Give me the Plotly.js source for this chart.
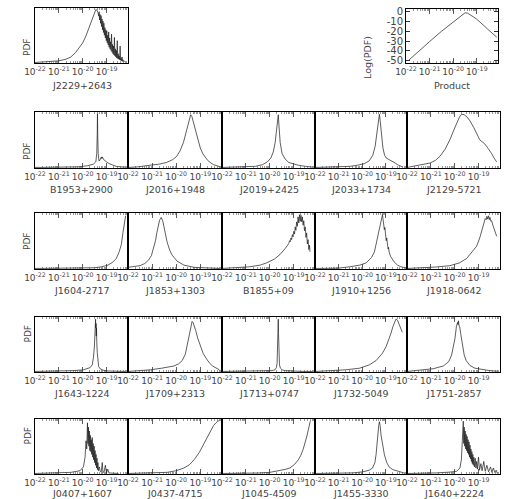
<!DOCTYPE html>
<html><head><meta charset="utf-8">
<script src="https://cdn.plot.ly/plotly-3.0.1.min.js"></script>
<style>html,body{margin:0;padding:0;background:#fff}#plot{width:505px;height:499px}</style>
</head><body><div id="plot"></div>
<script>
// ---- DATA: [log10(x), normalised PDF] ----
const tickValues = [-22, -21, -20, -19];
const tickLabels = ["10<sup>-22</sup>", "10<sup>-21</sup>", "10<sup>-20</sup>", "10<sup>-19</sup>"];
const productTickValues = [0, -10, -20, -30, -40, -50];
const productTickLabels = ["0", "-10", "-20", "-30", "-40", "-50"];

const J2229 = [[-22.0,0],[-21.55,0.01],[-21.0,0.03],[-20.7,0.06],[-20.5,0.1],[-20.3,0.18],[-20.15,0.26],[-20.0,0.36],[-19.86,0.49],[-19.72,0.66],[-19.6,0.82],[-19.5,0.94],[-19.45,0.97],[-19.4,0.96],[-19.36,0.92],[-19.33,0.85],
 [-19.31,0.93],[-19.29,0.78],[-19.27,0.88],[-19.25,0.72],[-19.23,0.86],[-19.21,0.66],[-19.19,0.8],[-19.17,0.6],[-19.15,0.76],[-19.13,0.55],[-19.11,0.72],[-19.09,0.5],[-19.07,0.64],[-19.05,0.45],[-19.03,0.6],[-19.01,0.4],[-18.99,0.58],[-18.97,0.36],[-18.95,0.5],[-18.93,0.32],[-18.91,0.56],[-18.89,0.28],[-18.87,0.45],[-18.85,0.25],[-18.83,0.38],[-18.81,0.22],[-18.79,0.52],[-18.77,0.19],[-18.75,0.33],[-18.73,0.16],[-18.71,0.3],[-18.69,0.14],[-18.67,0.46],[-18.65,0.12],[-18.63,0.25],[-18.61,0.1],[-18.59,0.22],[-18.57,0.08],[-18.55,0.4],[-18.53,0.07],[-18.51,0.16],[-18.49,0.06],[-18.47,0.12],[-18.45,0.05],[-18.43,0.3],[-18.41,0.04],[-18.39,0.08],[-18.37,0.03],[-18.35,0.1],[-18.33,0.02],[-18.31,0.05],[-18.29,0.02],[-18.27,0.03],[-18.25,0.01]];

const Product = [[-21.9,-50],[-21.5,-41],[-21.0,-30.5],[-20.5,-20],[-20.0,-10],[-19.75,-5],[-19.6,-2],[-19.5,-1],[-19.4,-1.2],[-19.3,-2.5],[-19.15,-5],[-19.0,-7.5],[-18.85,-10.5],[-18.7,-14],[-18.55,-17.5],[-18.4,-21],[-18.25,-24],[-18.15,-26]];

const B1953 = [[-22,0],[-21,0.003],[-20.2,0.01],[-19.8,0.03],[-19.55,0.06],[-19.45,0.1],[-19.41,0.25],[-19.39,0.6],[-19.38,0.97],[-19.37,0.6],[-19.35,0.25],[-19.32,0.12],[-19.28,0.13],[-19.25,0.17],[-19.22,0.19],[-19.2,0.16],[-19.17,0.19],[-19.14,0.15],[-19.1,0.14],[-19.05,0.12],[-19.0,0.1],[-18.9,0.07],[-18.8,0.05],[-18.6,0.02],[-18.4,0.01],[-18.2,0.005]];
const J2016 = [[-22,0],[-21.6,0.01],[-21.09,0.04],[-20.7,0.06],[-20.4,0.09],[-20.15,0.14],[-19.98,0.2],[-19.84,0.3],[-19.7,0.45],[-19.6,0.62],[-19.52,0.78],[-19.45,0.9],[-19.4,0.95],[-19.35,0.92],[-19.28,0.8],[-19.2,0.66],[-19.14,0.55],[-19.07,0.44],[-19.0,0.35],[-18.9,0.25],[-18.8,0.18],[-18.7,0.13],[-18.59,0.09],[-18.45,0.05],[-18.31,0.03],[-18.17,0.01]];
const J2019 = [[-22,0],[-21,0.005],[-20.6,0.02],[-20.3,0.05],[-20.1,0.1],[-19.95,0.17],[-19.85,0.28],[-19.77,0.45],[-19.7,0.7],[-19.66,0.93],[-19.64,0.95],[-19.61,0.75],[-19.56,0.45],[-19.48,0.25],[-19.35,0.15],[-19.2,0.09],[-19.0,0.06],[-18.8,0.04],[-18.5,0.02],[-18.3,0.01],[-18.2,0.005]];
const J2033 = [[-22,0],[-21,0.01],[-20.5,0.02],[-20.2,0.04],[-19.9,0.07],[-19.7,0.12],[-19.55,0.22],[-19.45,0.38],[-19.37,0.6],[-19.3,0.85],[-19.27,0.96],[-19.24,0.85],[-19.18,0.55],[-19.12,0.35],[-19.05,0.22],[-18.98,0.17],[-18.9,0.15],[-18.8,0.13],[-18.7,0.11],[-18.6,0.08],[-18.5,0.05],[-18.4,0.03],[-18.3,0.01]];
const J2129 = [[-22,0],[-21.87,0.01],[-21.5,0.03],[-21.03,0.08],[-20.8,0.13],[-20.62,0.2],[-20.4,0.33],[-20.2,0.5],[-20.05,0.66],[-19.92,0.8],[-19.8,0.91],[-19.71,0.96],[-19.6,0.95],[-19.48,0.91],[-19.36,0.84],[-19.2,0.72],[-19.08,0.6],[-18.95,0.5],[-18.87,0.47],[-18.75,0.43],[-18.66,0.38],[-18.55,0.32],[-18.45,0.25],[-18.35,0.17],[-18.24,0.1]];

const J1604 = [[-22,0],[-21,0.002],[-20,0.005],[-19.5,0.012],[-19.2,0.03],[-18.94,0.06],[-18.75,0.11],[-18.59,0.18],[-18.47,0.3],[-18.38,0.43],[-18.31,0.65],[-18.25,0.82],[-18.2,0.95]];
const J1853 = [[-22,0.02],[-21.79,0.03],[-21.5,0.05],[-21.3,0.09],[-21.15,0.15],[-21.03,0.23],[-20.94,0.35],[-20.86,0.5],[-20.8,0.65],[-20.74,0.78],[-20.69,0.87],[-20.62,0.92],[-20.56,0.86],[-20.52,0.78],[-20.45,0.62],[-20.38,0.48],[-20.27,0.33],[-20.17,0.24],[-19.96,0.13],[-19.68,0.06],[-19.26,0.02],[-18.7,0.005],[-18.2,0]];
const B1855 = [[-22,0],[-21.5,0.01],[-20.83,0.03],[-20.4,0.06],[-20.13,0.1],[-19.8,0.17],[-19.57,0.25],[-19.35,0.36],[-19.2,0.45],[-19.17,0.5],[-19.14,0.48],[-19.11,0.55],[-19.08,0.52],[-19.05,0.61],[-19.02,0.57],[-18.99,0.67],[-18.96,0.62],[-18.93,0.75],[-18.9,0.69],[-18.87,0.84],[-18.84,0.76],[-18.81,0.93],[-18.78,0.82],[-18.75,0.97],[-18.72,0.85],[-18.69,0.96],[-18.66,0.84],[-18.63,0.93],[-18.6,0.78],[-18.57,0.86],[-18.54,0.68],[-18.51,0.75],[-18.48,0.56],[-18.45,0.64],[-18.42,0.44],[-18.39,0.52],[-18.36,0.34],[-18.33,0.42],[-18.31,0.3]];
const J1910 = [[-22,0],[-21,0.005],[-20.53,0.03],[-20.1,0.06],[-19.83,0.1],[-19.6,0.2],[-19.48,0.3],[-19.35,0.55],[-19.25,0.78],[-19.2,0.88],[-19.16,0.95],[-19.14,0.97],[-19.12,0.9],[-19.1,0.82],[-19.08,0.86],[-19.06,0.7],[-19.04,0.74],[-19.02,0.6],[-19.0,0.64],[-18.98,0.5],[-18.96,0.55],[-18.94,0.42],[-18.92,0.46],[-18.9,0.35],[-18.88,0.38],[-18.86,0.3],[-18.8,0.22],[-18.72,0.16],[-18.65,0.12],[-18.5,0.06],[-18.36,0.03],[-18.15,0.01]];
const J1918 = [[-22,0],[-21.32,0.01],[-20.8,0.025],[-20.2,0.05],[-19.8,0.1],[-19.5,0.18],[-19.25,0.3],[-19.08,0.4],[-18.95,0.55],[-18.85,0.7],[-18.78,0.82],[-18.72,0.9],[-18.68,0.88],[-18.65,0.94],[-18.62,0.89],[-18.58,0.95],[-18.55,0.88],[-18.52,0.92],[-18.48,0.85],[-18.45,0.86],[-18.4,0.78],[-18.35,0.72],[-18.3,0.65],[-18.24,0.58]];

const J1643 = [[-22,0],[-21,0.005],[-20.4,0.015],[-19.97,0.03],[-19.8,0.05],[-19.69,0.07],[-19.6,0.12],[-19.55,0.25],[-19.51,0.45],[-19.49,0.7],[-19.47,0.85],[-19.46,0.96],[-19.45,0.8],[-19.44,0.88],[-19.43,0.65],[-19.42,0.8],[-19.41,0.55],[-19.39,0.35],[-19.37,0.18],[-19.33,0.09],[-19.27,0.05],[-19.15,0.025],[-18.99,0.01],[-18.6,0.003],[-18.2,0]];
const J1709 = [[-22,0],[-21.6,0.01],[-21.08,0.03],[-20.6,0.06],[-20.1,0.1],[-19.9,0.14],[-19.75,0.2],[-19.62,0.32],[-19.54,0.5],[-19.48,0.65],[-19.43,0.77],[-19.38,0.87],[-19.34,0.92],[-19.3,0.9],[-19.24,0.83],[-19.19,0.75],[-19.1,0.6],[-18.98,0.45],[-18.88,0.33],[-18.77,0.25],[-18.63,0.16],[-18.49,0.1],[-18.35,0.06],[-18.21,0.03]];
const J1713 = [[-22,0],[-21,0.002],[-20.2,0.006],[-19.9,0.015],[-19.78,0.03],[-19.72,0.07],[-19.69,0.15],[-19.665,0.4],[-19.65,0.75],[-19.64,0.96],[-19.63,0.7],[-19.615,0.3],[-19.59,0.12],[-19.55,0.06],[-19.48,0.03],[-19.35,0.015],[-19.1,0.006],[-18.7,0.002],[-18.2,0]];
const J1732 = [[-22,0],[-21.6,0.005],[-21.23,0.012],[-20.7,0.03],[-20.11,0.06],[-19.7,0.12],[-19.41,0.2],[-19.15,0.33],[-18.99,0.45],[-18.88,0.57],[-18.78,0.7],[-18.7,0.82],[-18.63,0.92],[-18.57,0.96],[-18.5,0.94],[-18.44,0.88],[-18.37,0.8],[-18.3,0.72]];
const J1751 = [[-22,0],[-21.32,0.03],[-20.9,0.05],[-20.48,0.1],[-20.25,0.18],[-20.13,0.3],[-20.05,0.45],[-19.99,0.6],[-19.93,0.82],[-19.88,0.9],[-19.86,0.86],[-19.84,0.93],[-19.82,0.85],[-19.79,0.82],[-19.75,0.7],[-19.71,0.58],[-19.66,0.42],[-19.6,0.3],[-19.52,0.2],[-19.36,0.11],[-19.15,0.06],[-18.94,0.04],[-18.6,0.02],[-18.38,0.01],[-18.2,0.005]];

const J0407 = [[-22,0],[-21.5,0.003],[-20.95,0.01],[-20.5,0.02],[-20.11,0.05],[-19.97,0.12],[-19.9,0.3],[-19.86,0.6],[-19.83,0.45],[-19.8,0.93],[-19.78,0.55],[-19.76,0.85],[-19.74,0.5],[-19.72,0.78],[-19.7,0.42],[-19.68,0.7],[-19.66,0.4],[-19.64,0.62],[-19.62,0.35],[-19.6,0.66],[-19.58,0.3],[-19.56,0.55],[-19.54,0.25],[-19.52,0.5],[-19.5,0.2],[-19.48,0.42],[-19.46,0.15],[-19.44,0.35],[-19.42,0.1],[-19.4,0.28],[-19.38,0.07],[-19.36,0.2],[-19.34,0.05],[-19.3,0.12],[-19.27,0.04],[-19.22,0.03],[-19.18,0.2],[-19.15,0.02],[-19.1,0.03],[-19.05,0.15],[-19.0,0.01],[-18.95,0.08],[-18.9,0.01],[-18.7,0.005],[-18.5,0]];
const J0437 = [[-22,0],[-21.5,0.002],[-21,0.006],[-20.38,0.02],[-20.0,0.05],[-19.68,0.1],[-19.45,0.16],[-19.26,0.25],[-19.05,0.38],[-18.84,0.55],[-18.7,0.68],[-18.56,0.8],[-18.45,0.88],[-18.35,0.93],[-18.28,0.96],[-18.21,0.97]];
const J1045 = [[-22,0],[-21,0.002],[-20.5,0.008],[-19.99,0.02],[-19.6,0.05],[-19.35,0.075],[-19.15,0.1],[-18.95,0.17],[-18.8,0.25],[-18.7,0.33],[-18.6,0.44],[-18.52,0.55],[-18.45,0.67],[-18.38,0.8],[-18.33,0.9],[-18.3,0.96]];
const J1455 = [[-22,0],[-21,0.003],[-20.4,0.01],[-19.97,0.03],[-19.7,0.06],[-19.56,0.1],[-19.46,0.2],[-19.41,0.35],[-19.35,0.7],[-19.3,0.88],[-19.27,0.95],[-19.24,0.88],[-19.2,0.7],[-19.13,0.5],[-19.06,0.35],[-18.96,0.2],[-18.86,0.12],[-18.7,0.07],[-18.51,0.04],[-18.23,0.01]];
const J1640 = [[-22,0],[-21.5,0.003],[-20.75,0.01],[-20.2,0.025],[-19.92,0.04],[-19.78,0.1],[-19.72,0.25],[-19.68,0.6],[-19.66,0.8],[-19.64,0.96],[-19.62,0.55],[-19.6,0.85],[-19.58,0.5],[-19.56,0.78],[-19.54,0.45],[-19.52,0.72],[-19.5,0.42],[-19.48,0.68],[-19.46,0.38],[-19.44,0.62],[-19.42,0.35],[-19.4,0.58],[-19.38,0.3],[-19.36,0.52],[-19.34,0.27],[-19.32,0.45],[-19.3,0.22],[-19.28,0.4],[-19.26,0.18],[-19.24,0.35],[-19.22,0.15],[-19.2,0.3],[-19.17,0.12],[-19.14,0.28],[-19.11,0.1],[-19.08,0.22],[-19.05,0.08],[-19.0,0.3],[-18.96,0.06],[-18.9,0.18],[-18.85,0.05],[-18.78,0.22],[-18.72,0.04],[-18.65,0.15],[-18.58,0.03],[-18.5,0.12],[-18.44,0.02],[-18.38,0.1],[-18.32,0.02],[-18.26,0.06],[-18.22,0.01]];

const gridNames = [
  ["B1953+2900","J2016+1948","J2019+2425","J2033+1734","J2129-5721"],
  ["J1604-2717","J1853+1303","B1855+09","J1910+1256","J1918-0642"],
  ["J1643-1224","J1709+2313","J1713+0747","J1732-5049","J1751-2857"],
  ["J0407+1607","J0437-4715","J1045-4509","J1455-3330","J1640+2224"]
];
const gridData = [
  [B1953, J2016, J2019, J2033, J2129],
  [J1604, J1853, B1855, J1910, J1918],
  [J1643, J1709, J1713, J1732, J1751],
  [J0407, J0437, J1045, J1455, J1640]
];

// ---- LAYOUT ----
const W = 505, H = 499;
const colL = [35, 128, 222, 315, 407], colR = [128, 222, 315, 407, 500];
const rowT = [112, 213, 317, 419], rowB = [168, 269, 372, 474];
const nameY = [190, 290, 393, 493];
const textCol = '#444';
const fam = 'DejaVu Sans';

const minorVals = [];
for (let d = -22; d <= -19; d++) for (let k = 2; k <= 9; k++) minorVals.push(d + Math.log10(k));

const traces = [];
const layout = {
  width: W, height: H, margin: {l:0, r:0, t:0, b:0},
  paper_bgcolor: '#fff', plot_bgcolor: '#fff', showlegend: false,
  annotations: [], font: {family: fam, color: textCol}
};
let n = 0;
function px(x) { return x / W; }
function py(y) { return 1 - y / H; }

function addPanel(data, x0, x1, y0, y1, name, labelY, isProduct) {
  n++;
  const xk = n === 1 ? 'xaxis' : 'xaxis' + n;
  const yk = n === 1 ? 'yaxis' : 'yaxis' + n;
  const xr = n === 1 ? 'x' : 'x' + n;
  const yr = n === 1 ? 'y' : 'y' + n;
  traces.push({
    x: data.map(p => p[0]), y: data.map(p => p[1]), xaxis: xr, yaxis: yr,
    type: 'scatter', mode: 'lines', line: {color: '#1a1a1a', width: 0.7}, hoverinfo: 'skip'
  });
  layout[xk] = {
    domain: [px(x0), px(x1)], anchor: yr, range: [-22, -18.1],
    tickmode: 'array', tickvals: tickValues, ticktext: tickLabels, tickangle: 0,
    ticks: 'inside', ticklen: 5, tickwidth: 0.8, tickcolor: '#333',
    minor: {tickmode: 'array', tickvals: minorVals, ticks: 'inside', ticklen: 2, tickwidth: 0.6, tickcolor: '#555', showgrid: false},
    mirror: 'ticks', showline: true, linecolor: '#000', linewidth: 1,
    showgrid: false, zeroline: false, fixedrange: true,
    tickfont: {family: fam, size: 9, color: textCol}
  };
  if (isProduct) {
    layout[yk] = {
      domain: [py(y1), py(y0)], anchor: xr, range: [-52.5, 3],
      tickmode: 'array', tickvals: productTickValues, ticktext: productTickLabels,
      ticks: 'inside', ticklen: 4, tickcolor: '#333', mirror: 'ticks',
      showline: true, linecolor: '#000', linewidth: 1, showgrid: false, zeroline: false,
      fixedrange: true, tickfont: {family: fam, size: 10, color: textCol}
    };
  } else {
    layout[yk] = {
      domain: [py(y1), py(y0)], anchor: xr, range: [-0.01, 1.0],
      showticklabels: false, ticks: '', showline: true, mirror: true,
      linecolor: '#000', linewidth: 1, showgrid: false, zeroline: false, fixedrange: true
    };
  }
  layout.annotations.push({
    xref: 'paper', yref: 'paper', x: px((x0 + x1) / 2), y: py(labelY),
    text: name, showarrow: false, xanchor: 'center', yanchor: 'middle',
    font: {family: fam, size: 9.5, color: textCol}
  });
}

// top row
addPanel(J2229, 35, 128, 8, 63, "J2229+2643", 86, false);
addPanel(Product, 406, 498, 9, 63, "Product", 86, true);
layout.annotations.push({xref:'paper', yref:'paper', x: px(20), y: py(36), text:'PDF', textangle:-90, showarrow:false, font:{family:fam, size:9, color:textCol}});
layout.annotations.push({xref:'paper', yref:'paper', x: px(375), y: py(34), text:'Log(PDF)', textangle:-90, showarrow:false, font:{family:fam, size:9.5, color:textCol}});

for (let r = 0; r < 4; r++) {
  for (let c = 0; c < 5; c++) {
    addPanel(gridData[r][c], colL[c], colR[c], rowT[r], rowB[r], gridNames[r][c], nameY[r], false);
  }
  layout.annotations.push({xref:'paper', yref:'paper', x: px(20), y: py((rowT[r] + rowB[r]) / 2), text:'PDF', textangle:-90, showarrow:false, font:{family:fam, size:9, color:textCol}});
}

Plotly.newPlot('plot', traces, layout, {staticPlot: true, displayModeBar: false});
</script>
</body></html>
